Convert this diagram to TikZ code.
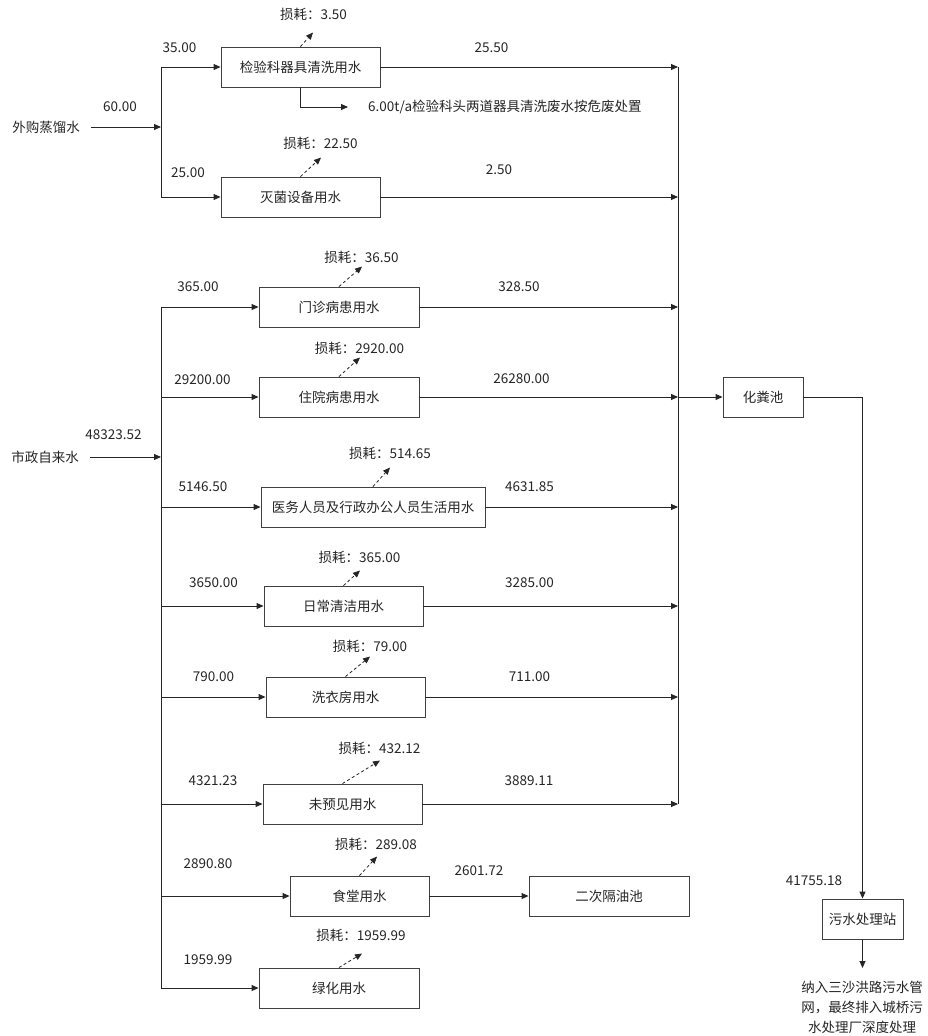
\documentclass[tikz,border=0pt]{standalone}
\usepackage{fontspec}
\setmainfont{Noto Sans CJK SC}
\usetikzlibrary{arrows.meta}
\begin{document}
\begin{tikzpicture}[x=1pt,y=-1pt,
  font=\fontsize{13.5}{16}\selectfont,
  every node/.style={text=black!85},
  box/.style={draw=black!75, line width=0.9pt, minimum height=40pt, inner sep=0pt, anchor=center},
  lbl/.style={inner sep=0pt},
  line/.style={draw=black!85, line width=0.9pt},
  flow/.style={line, -{Triangle[length=7pt,width=6pt]}},
  loss/.style={draw=black!85, line width=0.8pt, dash pattern=on 3pt off 2.5pt, -{Triangle[length=7pt,width=6pt]}},
]
\fill[white] (0,0) rectangle (928,1036);
\useasboundingbox (0,0) rectangle (928,1036);

% boxes
\node[box, minimum width=159pt] (b1) at (300.5,67) {检验科器具清洗用水};
\node[box, minimum width=159pt] (b2) at (300.5,197) {灭菌设备用水};
\node[box, minimum width=160pt] (b3) at (339,307) {门诊病患用水};
\node[box, minimum width=160pt] (b4) at (339,397) {住院病患用水};
\node[box, minimum width=224pt] (b5) at (373,507) {医务人员及行政办公人员生活用水};
\node[box, minimum width=159pt] (b6) at (343.5,606) {日常清洁用水};
\node[box, minimum width=159pt] (b7) at (345.5,697) {洗衣房用水};
\node[box, minimum width=159pt] (b8) at (342.5,804) {未预见用水};
\node[box, minimum width=139pt] (b9) at (359.5,896) {食堂用水};
\node[box, minimum width=160pt] (b10) at (339,988) {绿化用水};
\node[box, minimum width=160pt] (gyc) at (609,896) {二次隔油池};
\node[box, minimum width=80pt] (hfc) at (763,397) {化粪池};
\node[box, minimum width=81pt] (wsc) at (862.5,919) {污水处理站};

% sources and texts
\node[lbl, anchor=east] (s1) at (80,127) {外购蒸馏水};
\node[lbl, anchor=east] (s2) at (79,457) {市政自来水};
\node[lbl, anchor=west] (waste) at (368,107) {6.00t/a检验科头两道器具清洗废水按危废处置};
\node[lbl, align=center, anchor=north, font=\fontsize{13.5}{20}\selectfont] (outtxt) at (862,981) {纳入三沙洪路污水管\\网，最终排入城桥污\\水处理厂深度处理};

% junction coordinates
\coordinate (t1a) at (161,67);
\coordinate (t1b) at (161,197);
\coordinate (j1) at (161,127);
\coordinate (t2) at (161,0);
\coordinate (bus) at (678,0);
\coordinate (outend) at (862.5,968);

% distilled water branch
\draw[flow] ([xshift=11pt]s1.east) -- (j1);
\draw[line] (t1a) -- (t1b);
\draw[flow] (t1a) -- (b1.west);
\draw[flow] (t1b) -- (b2.west);
\draw[flow] (b1.south) |- ([xshift=-20pt]waste.west);

% tap water trunk
\draw[flow] ([xshift=11pt]s2.east) -- (s2.east -| t2);
\draw[line] (b3.west -| t2) -- (b10.west -| t2);
\foreach \b in {b3,b4,b5,b6,b7,b8,b9,b10}
  \draw[flow] (\b.west -| t2) -- (\b.west);

% outflows to bus
\draw[line] (b1.east -| bus) -- (b8.east -| bus);
\foreach \b in {b1,b2,b3,b4,b5,b6,b7,b8}
  \draw[flow] (\b.east) -- (\b.east -| bus);
\draw[flow] (b9.east) -- (gyc.west);
\draw[flow] (b4.east -| bus) -- (hfc.west);
\draw[flow] (hfc.east) -| (wsc.north);
\draw[flow] (wsc.south) -- (outend);

% losses
\draw[loss] (b1.north) -- ++(12.5,-14);
\draw[loss] (b2.north) -- ++(20.5,-19);
\draw[loss] (b3.north) -- ++(23,-20);
\draw[loss] (b4.north) -- ++(21,-19);
\draw[loss] (b5.north) -- ++(17,-19);
\draw[loss] (b6.north) -- ++(16.5,-15);
\draw[loss] (b7.north) -- ++(24.5,-20);
\draw[loss] (b8.north) -- ++(37.5,-23);
\draw[loss] (b9.north) -- ++(17.5,-19);
\draw[loss] (b10.north) -- ++(23,-14);

\node[lbl] (L1) at (313.5,14) {损耗：3.50};
\node[lbl] (L2) at (320.5,143) {损耗：22.50};
\node[lbl] (L3) at (361.5,257) {损耗：36.50};
\node[lbl] (L4) at (359.5,348) {损耗：2920.00};
\node[lbl] (L5) at (390,453) {损耗：514.65};
\node[lbl] (L6) at (359.5,557) {损耗：365.00};
\node[lbl] (L7) at (370,646) {损耗：79.00};
\node[lbl] (L8) at (379.5,748) {损耗：432.12};
\node[lbl] (L9) at (376,844) {损耗：289.08};
\node[lbl] (L10) at (361,935) {损耗：1959.99};

% flow values
\node[lbl] (v1) at (179.5,48) {35.00};
\node[lbl] (v2) at (491.5,48) {25.50};
\node[lbl] (v3) at (120,107) {60.00};
\node[lbl] (v4) at (188,173) {25.00};
\node[lbl] (v5) at (499,170) {2.50};
\node[lbl] (v6) at (198,287) {365.00};
\node[lbl] (v7) at (519,287) {328.50};
\node[lbl] (v8) at (202.5,380) {29200.00};
\node[lbl] (v9) at (521.5,379) {26280.00};
\node[lbl] (v10) at (113.5,435) {48323.52};
\node[lbl] (v11) at (203,487) {5146.50};
\node[lbl] (v12) at (529.5,487) {4631.85};
\node[lbl] (v13) at (213.5,583) {3650.00};
\node[lbl] (v14) at (529.5,583) {3285.00};
\node[lbl] (v15) at (213.5,677) {790.00};
\node[lbl] (v16) at (529.5,677) {711.00};
\node[lbl] (v17) at (213,781) {4321.23};
\node[lbl] (v18) at (529,781) {3889.11};
\node[lbl] (v19) at (208,864) {2890.80};
\node[lbl] (v20) at (479,871) {2601.72};
\node[lbl] (v21) at (208,960) {1959.99};
\node[lbl] (v22) at (814,881) {41755.18};
\end{tikzpicture}
\end{document}
